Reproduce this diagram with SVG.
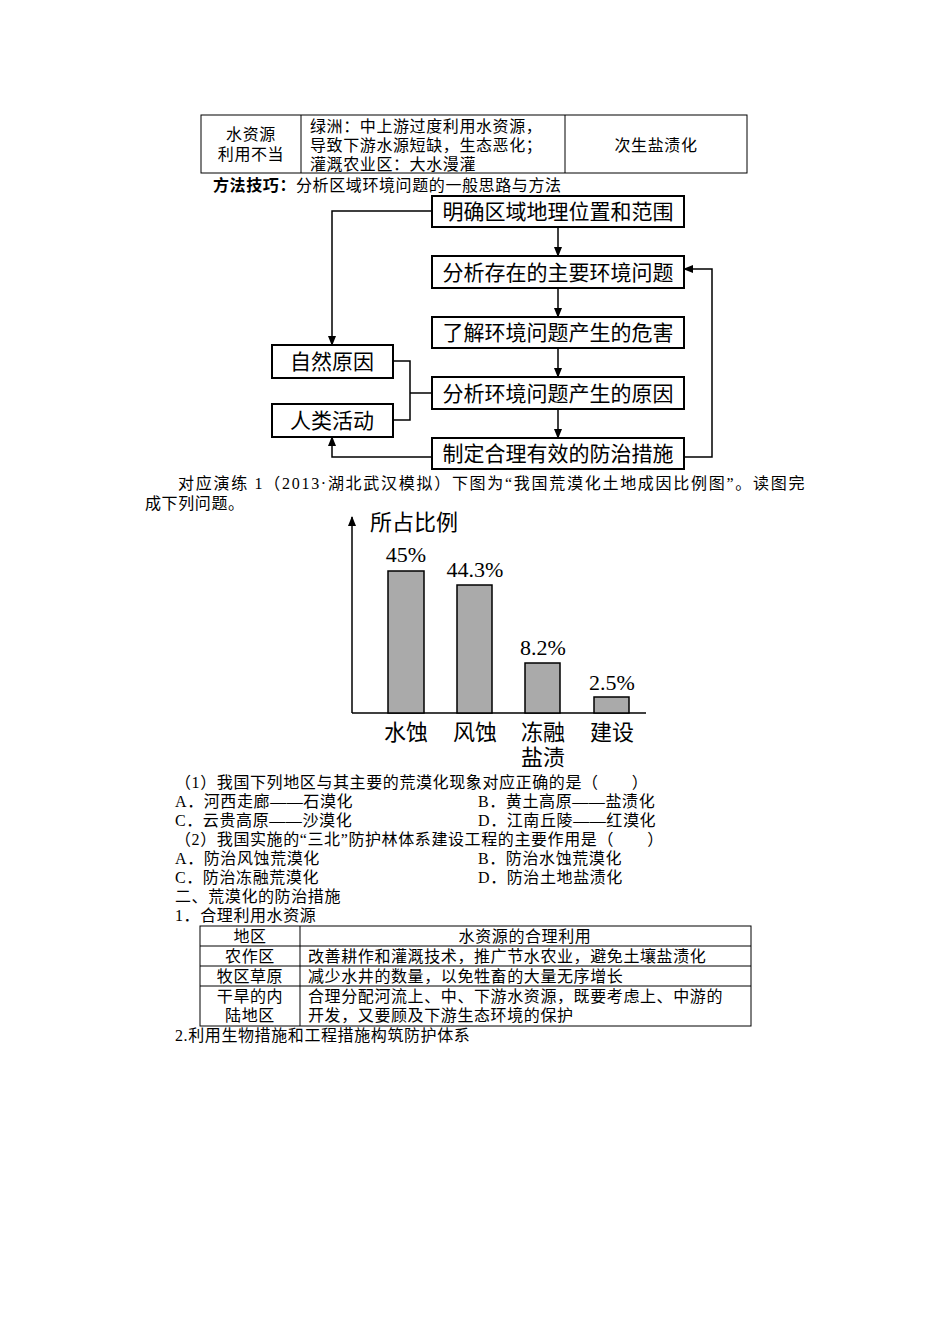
<svg xmlns="http://www.w3.org/2000/svg" width="950" height="1344" viewBox="0 0 950 1344">
<style>
text{font-family:"Liberation Serif","Noto Sans CJK SC",serif;fill:#000}
.t{font-size:16px;letter-spacing:0.6px}
.b{font-size:21px}
.box{fill:#fff;stroke:#000;stroke-width:2}
.ln{fill:none;stroke:#000;stroke-width:1.5}
.tb{fill:none;stroke:#000;stroke-width:1}
.bar{fill:#aaa;stroke:#000;stroke-width:1.5}
.c{font-size:22px;font-family:"Liberation Serif","Noto Sans CJK SC",serif}
</style>
<defs><marker id="a" markerWidth="10" markerHeight="10" refX="9" refY="5" orient="auto" markerUnits="userSpaceOnUse"><path d="M0,1 L10,5 L0,9 Z" fill="#000"/></marker></defs>
<rect width="950" height="1344" fill="#fff"/>
<g id="table1" class="t">
<rect x="201" y="115" width="546" height="58" class="tb"/>
<line x1="301" y1="115" x2="301" y2="173" class="tb"/>
<line x1="565" y1="115" x2="565" y2="173" class="tb"/>
<text x="251" y="140" text-anchor="middle">水资源</text>
<text x="251" y="160" text-anchor="middle">利用不当</text>
<text x="310" y="132">绿洲：中上游过度利用水资源，</text>
<text x="310" y="151">导致下游水源短缺，生态恶化；</text>
<text x="310" y="170">灌溉农业区：大水漫灌</text>
<text x="656" y="151" text-anchor="middle">次生盐渍化</text>
</g>
<text x="213" y="191" class="t"><tspan font-weight="bold">方法技巧：</tspan>分析区域环境问题的一般思路与方法</text>
<g id="connectors">
<line x1="558" y1="227" x2="558" y2="256" class="ln" marker-end="url(#a)"/>
<line x1="558" y1="288" x2="558" y2="317" class="ln" marker-end="url(#a)"/>
<line x1="558" y1="348" x2="558" y2="377" class="ln" marker-end="url(#a)"/>
<line x1="558" y1="409" x2="558" y2="438" class="ln" marker-end="url(#a)"/>
<polyline points="432,211 332,211 332,345" class="ln" marker-end="url(#a)"/>
<polyline points="432,457 332,457 332,437" class="ln" marker-end="url(#a)"/>
<polyline points="684,457 712,457 712,269 684,269" class="ln" marker-end="url(#a)"/>
<polyline points="393,361 410,361 410,420 393,420" class="ln"/>
<line x1="410" y1="393" x2="432" y2="393" class="ln"/>
</g>
<g id="n1"><rect x="432" y="196" width="252" height="31" class="box"/><text x="558" y="219" class="b" text-anchor="middle">明确区域地理位置和范围</text></g>
<g id="n2"><rect x="432" y="256" width="252" height="32" class="box"/><text x="558" y="280" class="b" text-anchor="middle">分析存在的主要环境问题</text></g>
<g id="n3"><rect x="432" y="317" width="252" height="31" class="box"/><text x="558" y="340" class="b" text-anchor="middle">了解环境问题产生的危害</text></g>
<g id="n4"><rect x="432" y="377" width="252" height="32" class="box"/><text x="558" y="401" class="b" text-anchor="middle">分析环境问题产生的原因</text></g>
<g id="n5"><rect x="432" y="438" width="252" height="31" class="box"/><text x="558" y="461" class="b" text-anchor="middle">制定合理有效的防治措施</text></g>
<g id="n6"><rect x="272" y="345" width="121" height="33" class="box"/><text x="332" y="369" class="b" text-anchor="middle">自然原因</text></g>
<g id="n7"><rect x="272" y="404" width="121" height="33" class="box"/><text x="332" y="428" class="b" text-anchor="middle">人类活动</text></g>
<text x="178" y="489" class="t" textLength="627" lengthAdjust="spacing">对应演练 1（2013·湖北武汉模拟）下图为“我国荒漠化土地成因比例图”。读图完</text>
<text x="145" y="509" class="t">成下列问题。</text>
<g id="chart">
<polyline points="352,713 352,517" class="ln" marker-end="url(#a)"/>
<line x1="352" y1="713" x2="646" y2="713" class="ln"/>
<text x="370" y="530" class="c">所占比例</text>
<rect x="388" y="571" width="36" height="142" class="bar"/>
<rect x="457" y="585" width="35" height="128" class="bar"/>
<rect x="525" y="663" width="35" height="50" class="bar"/>
<rect x="594" y="697" width="35" height="16" class="bar"/>
<text x="406" y="562" class="c" font-size="19" text-anchor="middle">45%</text>
<text x="475" y="577" class="c" font-size="19" text-anchor="middle">44.3%</text>
<text x="543" y="655" class="c" font-size="19" text-anchor="middle">8.2%</text>
<text x="612" y="690" class="c" font-size="19" text-anchor="middle">2.5%</text>
<text x="406" y="740" class="c" text-anchor="middle">水蚀</text>
<text x="475" y="740" class="c" text-anchor="middle">风蚀</text>
<text x="543" y="740" class="c" text-anchor="middle">冻融</text>
<text x="543" y="765" class="c" text-anchor="middle">盐渍</text>
<text x="612" y="740" class="c" text-anchor="middle">建设</text>
</g>
<g class="t">
<text x="175" y="788">（1）我国下列地区与其主要的荒漠化现象对应正确的是（　　）</text>
<text x="175" y="807">A．河西走廊——石漠化</text>
<text x="478" y="807">B．黄土高原——盐渍化</text>
<text x="175" y="826">C．云贵高原——沙漠化</text>
<text x="478" y="826">D．江南丘陵——红漠化</text>
<text x="175" y="845">（2）我国实施的“三北”防护林体系建设工程的主要作用是（　　）</text>
<text x="175" y="864">A．防治风蚀荒漠化</text>
<text x="478" y="864">B．防治水蚀荒漠化</text>
<text x="175" y="883">C．防治冻融荒漠化</text>
<text x="478" y="883">D．防治土地盐渍化</text>
<text x="175" y="902">二、荒漠化的防治措施</text>
<text x="175" y="921">1．合理利用水资源</text>
</g>
<g id="table2" class="t">
<rect x="200" y="926" width="551" height="100" class="tb"/>
<line x1="300" y1="926" x2="300" y2="1026" class="tb"/>
<line x1="200" y1="946" x2="751" y2="946" class="tb"/>
<line x1="200" y1="966" x2="751" y2="966" class="tb"/>
<line x1="200" y1="986" x2="751" y2="986" class="tb"/>
<text x="250" y="942" text-anchor="middle">地区</text>
<text x="525" y="942" text-anchor="middle">水资源的合理利用</text>
<text x="250" y="962" text-anchor="middle">农作区</text>
<text x="308" y="962">改善耕作和灌溉技术，推广节水农业，避免土壤盐渍化</text>
<text x="250" y="982" text-anchor="middle">牧区草原</text>
<text x="308" y="982">减少水井的数量，以免牲畜的大量无序增长</text>
<text x="250" y="1002" text-anchor="middle">干旱的内</text>
<text x="250" y="1021" text-anchor="middle">陆地区</text>
<text x="308" y="1002">合理分配河流上、中、下游水资源，既要考虑上、中游的</text>
<text x="308" y="1021">开发，又要顾及下游生态环境的保护</text>
</g>
<text x="175" y="1041" class="t">2.利用生物措施和工程措施构筑防护体系</text>
</svg>
